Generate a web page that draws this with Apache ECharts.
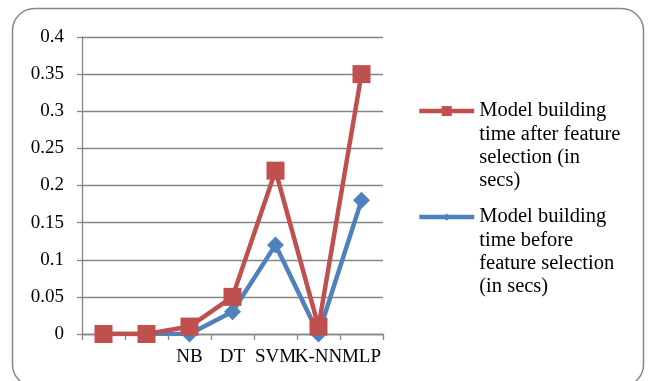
<!DOCTYPE html>
<html>
<head>
<meta charset="utf-8">
<script src="https://cdn.jsdelivr.net/npm/echarts@6/dist/echarts.min.js"></script>
<style>html,body{margin:0;padding:0;background:#fff}#c{width:648px;height:381px}</style>
</head>
<body>
<div id="c"></div>
<script>
const categories = ['', '', 'NB', 'DT', 'SVM', 'K-NN', 'MLP'];
const afterValues = [0, 0, 0.01, 0.05, 0.22, 0.01, 0.35];
const beforeValues = [0, 0, 0, 0.03, 0.12, 0, 0.18];
const afterName = 'Model building\ntime after feature\nselection (in\nsecs)';
const beforeName = 'Model building\ntime before\nfeature selection\n(in secs)';
const yTicks = [0, 0.05, 0.1, 0.15, 0.2, 0.25, 0.3, 0.35, 0.4];

const FONT = '"Liberation Serif", "Times New Roman", serif';
const RED = '#C0504D', BLUE = '#4F81BD', GRAY = '#868686';

const chart = echarts.init(document.getElementById('c'), null, {renderer: 'canvas'});
const legendText = {fontFamily: FONT, fontSize: 20.5, color: '#000', lineHeight: 23.3};
// pad with 3 blank lines so the first text line sits level with the legend icon
const legendFormatter = name => '\n\n\n' + name;
chart.setOption({
  animation: false,
  graphic: [{
    type: 'rect', shape: {x: 12.5, y: 8.5, width: 631, height: 378, r: 22},
    style: {fill: 'none', stroke: GRAY, lineWidth: 1.5}, silent: true, z: -1
  }],
  grid: {left: 82, right: 265, top: 37, bottom: 47, containLabel: false},
  legend: [{
    data: [afterName], orient: 'vertical', left: 417, top: 29.5,
    itemWidth: 55, itemHeight: 12.5, padding: 0, textStyle: legendText,
    formatter: legendFormatter, lineStyle: {width: 4.5}
  }, {
    data: [beforeName], orient: 'vertical', left: 417, top: 135.5,
    itemWidth: 55, itemHeight: 9, padding: 0, textStyle: legendText,
    formatter: legendFormatter, lineStyle: {width: 4.5}
  }],
  xAxis: {
    type: 'category', data: categories, boundaryGap: true,
    axisLine: {lineStyle: {color: GRAY, width: 1.3}},
    axisTick: {show: true, length: 6, lineStyle: {color: GRAY, width: 1.3}},
    axisLabel: {interval: 0, hideOverlap: false, margin: 14, color: '#000', fontFamily: FONT, fontSize: 19}
  },
  yAxis: {
    type: 'value', min: 0, max: 0.4, interval: 0.05,
    axisLine: {show: true, lineStyle: {color: GRAY, width: 1.3}},
    axisTick: {show: true, length: 5, lineStyle: {color: GRAY, width: 1.3}},
    splitLine: {show: true, lineStyle: {color: GRAY, width: 1.3}},
    axisLabel: {margin: 18, color: '#000', fontFamily: FONT, fontSize: 19,
      formatter: v => { const t = yTicks.find(x => Math.abs(x - v) < 1e-9); return String(t !== undefined ? t : v); }}
  },
  series: [{
    name: beforeName, type: 'line', data: beforeValues,
    symbol: 'diamond', symbolSize: 17, showAllSymbol: true,
    lineStyle: {color: BLUE, width: 4.5}, itemStyle: {color: BLUE}, z: 2
  }, {
    name: afterName, type: 'line', data: afterValues,
    symbol: 'rect', symbolSize: 18, showAllSymbol: true,
    lineStyle: {color: RED, width: 4.5}, itemStyle: {color: RED}, z: 3
  }]
});
</script>
</body>
</html>
